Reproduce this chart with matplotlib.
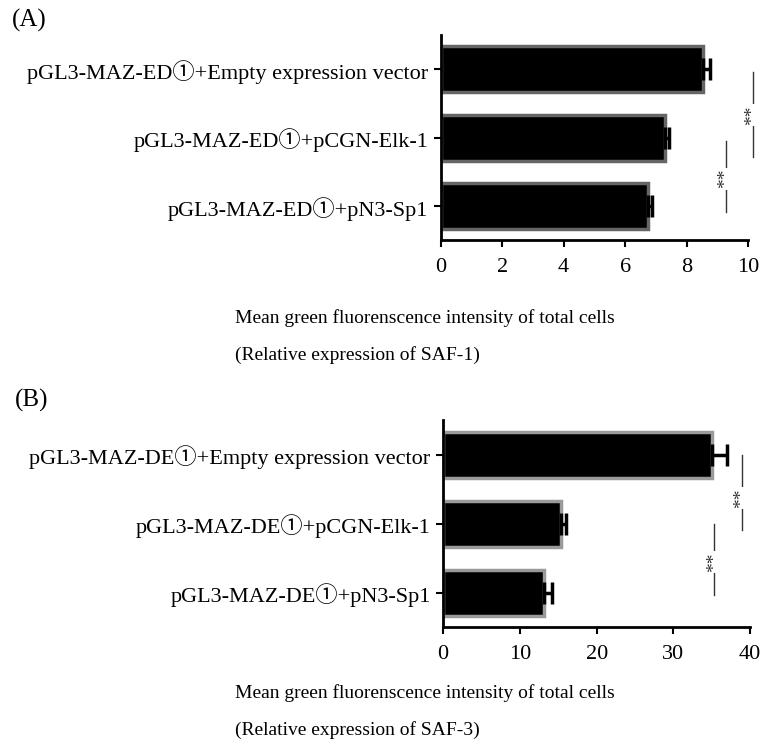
import matplotlib
matplotlib.use("Agg")
import matplotlib.pyplot as plt

plt.rcParams['font.family'] = ['Liberation Serif', 'Noto Sans CJK JP', 'DejaVu Sans']

# Panel A data
labels_a = ['pGL3-MAZ-ED①+Empty expression vector',
            'pGL3-MAZ-ED①+pCGN-Elk-1',
            'pGL3-MAZ-ED①+pN3-Sp1']
values_a = [8.53, 7.30, 6.73]
errors_a = [0.23, 0.14, 0.14]
ticks_a = [0, 2, 4, 6, 8, 10]
# significance marks: (x, y_start, y_end, text_y)
sig_a = [(10.16, 0.04, 1.28, 0.67), (9.28, 1.05, 2.09, 1.60)]

# Panel B data
labels_b = ['pGL3-MAZ-DE①+Empty expression vector',
            'pGL3-MAZ-DE①+pCGN-Elk-1',
            'pGL3-MAZ-DE①+pN3-Sp1']
values_b = [35.0, 15.4, 13.2]
errors_b = [2.0, 0.55, 0.95]
ticks_b = [0, 10, 20, 30, 40]
sig_b = [(38.9, 0.0, 1.09, 0.63), (35.3, 1.01, 2.04, 1.56)]

FS = 16

fig = plt.figure(figsize=(7.64, 7.44), dpi=100)
ax_a = fig.add_axes([0.577, 0.677, 0.402, 0.276])
ax_b = fig.add_axes([0.580, 0.157, 0.402, 0.278])


def draw_panel(ax, labels, values, errors, ticks, sig, edge):
    pos = list(range(len(labels)))
    ax.barh(pos, values, height=0.67, color='black', edgecolor=edge, linewidth=2.5)
    ax.errorbar(values, pos, xerr=[[0] * len(errors), errors], fmt='none',
                ecolor='black', elinewidth=2.5, capsize=8, capthick=2.5)
    ax.set_yticks(pos)
    ax.set_yticklabels(labels, fontsize=FS)
    ax.set_xticks(ticks)
    ax.set_xticklabels([str(t) for t in ticks], fontsize=FS)
    ax.set_xlim(0, ticks[-1])
    ax.set_ylim(2.5, -0.5)
    for side in ['top', 'right']:
        ax.spines[side].set_visible(False)
    for side in ['left', 'bottom']:
        ax.spines[side].set_linewidth(2)
    ax.tick_params(axis='both', direction='out', length=5, width=1.5, pad=4)
    ax.tick_params(axis='x', pad=8)
    for x, y0, y1, ty in sig:
        ax.plot([x, x], [y0, y1], color='#333333', lw=1, clip_on=False)
        ax.text(x, ty, '**', rotation=90, ha='center', va='center', fontsize=14,
                color='#333333', clip_on=False,
                bbox=dict(facecolor='white', edgecolor='none', pad=1))


draw_panel(ax_a, labels_a, values_a, errors_a, ticks_a, sig_a, '#666666')
draw_panel(ax_b, labels_b, values_b, errors_b, ticks_b, sig_b, '#9a9a9a')

fig.text(0.016, 0.972, '(A)', fontsize=FS + 2, va='center')
fig.text(0.020, 0.462, '(B)', fontsize=FS + 2, va='center')

TS = 14
fig.text(0.307, 0.573, 'Mean green fluorenscence intensity of total cells', fontsize=TS, va='center')
fig.text(0.307, 0.523, '(Relative expression of SAF-1)', fontsize=TS, va='center')
fig.text(0.307, 0.068, 'Mean green fluorenscence intensity of total cells', fontsize=TS, va='center')
fig.text(0.307, 0.019, '(Relative expression of SAF-3)', fontsize=TS, va='center')

fig.savefig('out.png', dpi=100)
